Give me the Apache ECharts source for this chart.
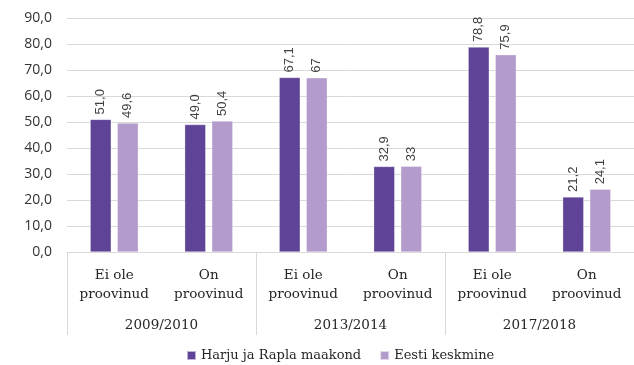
<!DOCTYPE html>
<html>
<head>
<meta charset="utf-8">
<script src="https://cdn.jsdelivr.net/npm/echarts@6/dist/echarts.min.js"></script>
<style>
  html, body { margin: 0; padding: 0; background: #fff; }
  #chart { width: 634px; height: 365px; }
</style>
</head>
<body>
<div id="chart"></div>
<script>
// Sub-categories (two-line labels) and their school-year groups
const answers = ['Ei ole\nproovinud', 'On\nproovinud', 'Ei ole\nproovinud', 'On\nproovinud', 'Ei ole\nproovinud', 'On\nproovinud'];
const years = ['2009/2010', '2013/2014', '2017/2018'];
const seriesNames = ['Harju ja Rapla maakond', 'Eesti keskmine'];

// Values as printed on the bars (Estonian decimal comma)
const harjuRapla = ['51,0', '49,0', '67,1', '32,9', '78,8', '21,2'];
const eestiKeskmine = ['49,6', '50,4', '67', '33', '75,9', '24,1'];

const yTicks = { min: 0, max: 90, interval: 10 };

const toNum = s => parseFloat(s.replace(',', '.'));

const serifFont = 'DejaVu Serif';

function barSeries(name, labels, color) {
  return {
    name: name,
    type: 'bar',
    xAxisIndex: 0,
    barWidth: 21,
    barGap: '29%',
    data: labels.map(s => ({ value: toNum(s), labelText: s })),
    itemStyle: { color: color, borderColor: 'rgba(255,255,255,0.6)', borderWidth: 0.5 },
    label: {
      show: true,
      position: 'top',
      rotate: 90,
      align: 'left',
      verticalAlign: 'middle',
      distance: 5,
      fontFamily: 'Liberation Sans',
      fontSize: 13,
      color: '#404040',
      formatter: p => p.data.labelText
    }
  };
}

const chart = echarts.init(document.getElementById('chart'), null, { renderer: 'canvas' });
chart.setOption({
  animation: false,
  grid: { left: 67, right: 0, top: 18, bottom: 113 },
  legend: {
    data: seriesNames,
    top: 349,
    left: 186,
    padding: 0,
    itemWidth: 9,
    itemHeight: 9,
    itemGap: 18,
    icon: 'rect',
    textStyle: { fontFamily: serifFont, fontSize: 13, color: '#262626' }
  },
  xAxis: [
    {
      type: 'category',
      data: answers,
      position: 'bottom',
      axisLine: { show: true, lineStyle: { color: '#d9d9d9', width: 1 } },
      axisTick: { show: false },
      axisLabel: {
        interval: 0,
        margin: 14,
        lineHeight: 19,
        fontFamily: serifFont,
        fontSize: 13.5,
        color: '#262626'
      }
    },
    {
      type: 'category',
      data: years,
      position: 'bottom',
      boundaryGap: true,
      axisLine: { show: false },
      axisTick: { show: true, length: 83, lineStyle: { color: '#d9d9d9', width: 1 } },
      axisLabel: {
        interval: 0,
        margin: 66,
        fontFamily: serifFont,
        fontSize: 13.5,
        color: '#262626'
      }
    }
  ],
  yAxis: {
    type: 'value',
    min: yTicks.min,
    max: yTicks.max,
    interval: yTicks.interval,
    axisLine: { show: false },
    axisTick: { show: false },
    splitLine: { lineStyle: { color: '#d9d9d9', width: 1 } },
    axisLabel: {
      margin: 15,
      fontFamily: 'Open Sans',
      fontSize: 14,
      color: '#333333',
      formatter: v => v.toFixed(1).replace('.', ',')
    }
  },
  series: [
    barSeries(seriesNames[0], harjuRapla, '#5f4396'),
    barSeries(seriesNames[1], eestiKeskmine, '#b39bcb')
  ]
});
</script>
</body>
</html>
